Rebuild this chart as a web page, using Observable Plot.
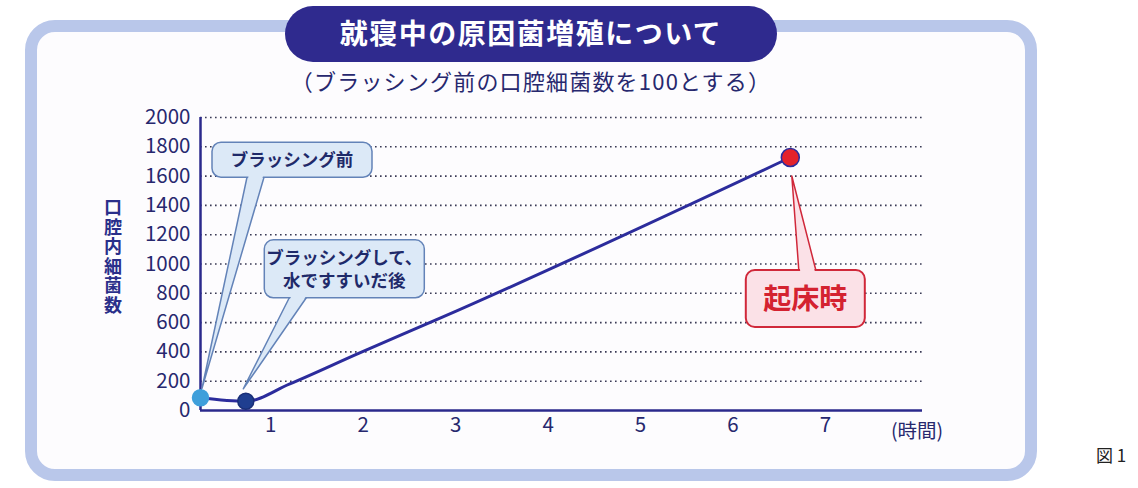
<!DOCTYPE html>
<html><head><meta charset="utf-8">
<script src="https://cdn.jsdelivr.net/npm/d3@7"></script>
<script src="https://cdn.jsdelivr.net/npm/@observablehq/plot@0.6"></script>
<style>html,body{margin:0;padding:0;background:#fff;} #chart{width:1138px;height:488px;}</style>
</head><body><div id="chart"></div>
<script>
// ---- data ----
const titleText = "就寝中の原因菌増殖について";
const subtitleText = "（ブラッシング前の口腔細菌数を100とする）";
const yLabelText = "口腔内細菌数";
const xUnitText = "(時間)";
const figText = "図 1";
const xTicks = [1, 2, 3, 4, 5, 6, 7];
const yTicks = [0, 200, 400, 600, 800, 1000, 1200, 1400, 1600, 1800, 2000];
const lineHours  = [0.24, 0.73, 1.2, 1.95, 2.85, 6.62];
const lineCounts = [87, 63, 180, 390, 635, 1727];
const markerHours  = [0.24, 0.73, 6.62];
const markerCounts = [87, 63, 1727];
const markerLabels = ["ブラッシング前", "ブラッシングして、\n水ですすいだ後", "起床時"];

// ---- styles / layout ----
const FONT = '"Noto Sans CJK JP", "Noto Sans", sans-serif';
const NAVY = "#27286e";
const LINE = "#2c2c9c";
const markerStyle = [
  {fill: "#3f9fdb", stroke: "#3f9fdb", r: 8},
  {fill: "#1f3e90", stroke: "#1a2f78", r: 8},
  {fill: "#e3222c", stroke: "#2c2c9c", r: 9}
];
const themes = {
  blue: {fill: "#dce9f7", stroke: "#6383b8", text: "#1f2a6a", size: 17.5, weight: 700},
  red:  {fill: "#fbe1e7", stroke: "#d0283a", text: "#d42230", size: 28, weight: 700}
};
const calloutLayout = [
  {bx: 12, by: -255, w: 160, h: 35, tip: [2, -9], base: [47, 64], side: "bottom", theme: "blue", lh: 23},
  {bx: 19, by: -161, w: 160, h: 58, tip: [-2, -12], base: [44, 61], side: "bottom", theme: "blue", lh: 23},
  {bx: -44, by: 113, w: 119, h: 57, tip: [2, 19], base: [9, 26], side: "top", theme: "red", lh: 30}
];

const lineData = lineHours.map((h, i) => ({h, v: lineCounts[i]}));
const markerData = markerHours.map((h, i) => ({h, v: markerCounts[i], label: markerLabels[i], i}));

function background(index, scales, values, dim) {
  const g = d3.create("svg:g").attr("font-family", FONT);
  g.append("rect").attr("x", 31).attr("y", 26).attr("width", 1000).attr("height", 449)
    .attr("rx", 24).attr("fill", "#fdfcfe").attr("stroke", "#b9c7ea").attr("stroke-width", 12);
  g.append("rect").attr("x", 285).attr("y", 6).attr("width", 492).attr("height", 56)
    .attr("rx", 28).attr("fill", "#2f2a8e");
  g.append("text").attr("x", 531).attr("y", 34).attr("dy", "0.36em").attr("text-anchor", "middle")
    .attr("fill", "#fff").attr("font-size", 28).attr("font-weight", 700).attr("letter-spacing", 1.5)
    .text(titleText);
  g.append("text").attr("x", 531).attr("y", 82).attr("dy", "0.36em").attr("text-anchor", "middle")
    .attr("fill", NAVY).attr("font-size", 22).attr("letter-spacing", 1.2)
    .text(subtitleText);
  g.append("text").attr("x", 113).attr("y", 257).attr("text-anchor", "middle")
    .style("writing-mode", "vertical-rl").attr("fill", "#2a2f8a")
    .attr("font-size", 18).attr("font-weight", 700).attr("letter-spacing", 1.5)
    .text(yLabelText);
  g.append("text").attr("x", 917).attr("y", 431).attr("dy", "0.36em").attr("text-anchor", "middle")
    .attr("fill", NAVY).attr("font-size", 19.5).text(xUnitText);
  g.append("text").attr("x", 1111).attr("y", 456).attr("dy", "0.36em").attr("text-anchor", "middle")
    .attr("fill", "#222").attr("font-size", 17).text(figText);
  return g.node();
}

function callouts(index, scales) {
  const g = d3.create("svg:g").attr("font-family", FONT);
  markerData.forEach((d, i) => {
    const L = calloutLayout[i], T = themes[L.theme];
    const ax = scales.x(d.h), ay = scales.y(d.v);
    const bx = ax + L.bx, by = ay + L.by;
    const baseY = L.side === "bottom" ? by + L.h : by;
    const out = L.side === "bottom" ? 1 : -1;
    const b0 = ax + L.base[0], b1 = ax + L.base[1];
    const tx = ax + L.tip[0], ty = ay + L.tip[1];
    g.append("path").attr("d", `M${b0},${baseY}L${tx},${ty}L${b1},${baseY}Z`)
      .attr("fill", T.fill).attr("stroke", T.stroke).attr("stroke-width", 1.5).attr("stroke-linejoin", "round");
    g.append("rect").attr("x", bx).attr("y", by).attr("width", L.w).attr("height", L.h).attr("rx", 9)
      .attr("fill", T.fill).attr("stroke", T.stroke).attr("stroke-width", L.theme === "red" ? 2 : 1.5);
    const ptAt = (bxp, dy) => { const t = dy / (ty - baseY); return bxp + (tx - bxp) * t; };
    const yIn = baseY - out * 2.5, yOut = baseY + out * 2.5;
    const lIn = ptAt(b0, yIn - baseY) + 1.3, rIn = ptAt(b1, yIn - baseY) - 1.3;
    const lOut = ptAt(b0, yOut - baseY) + 1.3, rOut = ptAt(b1, yOut - baseY) - 1.3;
    g.append("path").attr("d", `M${lIn},${yIn}L${rIn},${yIn}L${rOut},${yOut}L${lOut},${yOut}Z`).attr("fill", T.fill);
    const lines = d.label.split("\n");
    const cy = by + L.h / 2;
    const t = g.append("text").attr("text-anchor", "middle").attr("fill", T.text)
      .attr("font-size", T.size).attr("font-weight", T.weight);
    lines.forEach((s, k) => t.append("tspan").attr("x", bx + L.w / 2)
      .attr("y", cy + (k - (lines.length - 1) / 2) * L.lh).attr("dy", "0.36em").text(s));
  });
  return g.node();
}

const chart = Plot.plot({
  width: 1138, height: 488,
  marginLeft: 200, marginRight: 216, marginTop: 117, marginBottom: 78,
  style: {background: "#fff", fontFamily: FONT, color: NAVY, overflow: "visible"},
  x: {domain: [0.24, 8.05], axis: null},
  y: {domain: [0, 2000], axis: null},
  marks: [
    background,
    Plot.ruleY(yTicks.filter(v => v > 0), {stroke: "#3a3a55", strokeWidth: 1.6, strokeDasharray: "1.6 3.4"}),
    Plot.text(yTicks, {y: d => d, frameAnchor: "left", dx: -10, textAnchor: "end", fontSize: 20.5, fill: NAVY, text: d => String(d)}),
    Plot.text(xTicks, {x: d => d, frameAnchor: "bottom", dy: 21, fontSize: 20.5, fill: NAVY, text: d => String(d)}),
    Plot.ruleY([0], {stroke: "#2b2a8c", strokeWidth: 2.5}),
    Plot.ruleX([0.24], {y1: 0, y2: 2000, stroke: "#2b2a8c", strokeWidth: 2.5}),
    callouts,
    Plot.line(lineData, {x: "h", y: "v", curve: "monotone-x", stroke: LINE, strokeWidth: 3}),
    markerStyle.map((s, k) => Plot.dot(markerData.filter(d => d.i === k), {x: "h", y: "v", r: s.r,
      fill: s.fill, stroke: s.stroke, strokeWidth: 1.5}))
  ]
});
document.getElementById("chart").appendChild(chart);
</script>
</body></html>
